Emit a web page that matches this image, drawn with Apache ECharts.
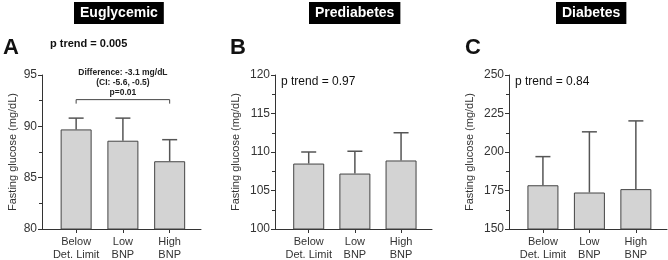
<!DOCTYPE html>
<html>
<head>
<meta charset="utf-8">
<script src="https://cdn.jsdelivr.net/npm/echarts@6/dist/echarts.min.js"></script>
<style>
  html, body { margin: 0; padding: 0; background: #fff; }
  #chart { width: 668px; height: 260px; }
</style>
</head>
<body>
<div id="chart"></div>
<script>
// categories shared by the three panels
const categories = ['Below\nDet. Limit', 'Low\nBNP', 'High\nBNP'];
const catIndex = [0, 1, 2];

// mean fasting glucose and upper error bar (mg/dL)
const eugMean = [89.7, 88.6, 86.6];
const eugUpper = [90.8, 90.8, 88.7];
const preMean = [108.5, 107.2, 108.9];
const preUpper = [110.0, 110.1, 112.5];
const diaMean = [178.4, 173.7, 175.9];
const diaUpper = [197.0, 213.1, 220.2];

// y axis ranges
const eugAxis = [80, 95, 5];
const preAxis = [100, 120, 5];
const diaAxis = [150, 250, 25];

// pairwise comparison bracket in panel A
const bracket = [[0, 2, 92.6]];
const bracketText = ['Difference: -3.1 mg/dL', '(CI: -5.6, -0.5)', 'p=0.01'];

const FONT = 'Liberation Sans, Arial, sans-serif';
const AXIS_COLOR = '#333';

const chart = echarts.init(document.getElementById('chart'), null, { renderer: 'canvas' });

const grids = [
  { left: 42, top: 75, width: 159, height: 154, outerBoundsMode: 'none', containLabel: false },
  { left: 275, top: 75, width: 157, height: 154, outerBoundsMode: 'none', containLabel: false },
  { left: 509, top: 75, width: 158, height: 154, outerBoundsMode: 'none', containLabel: false }
];

function xAxisFor(i) {
  return {
    type: 'value', gridIndex: i, min: -0.73, max: 2.67,
    splitLine: { show: false },
    axisLine: { onZero: false, lineStyle: { color: AXIS_COLOR, width: 1 } },
    axisTick: { customValues: catIndex, length: 4, lineStyle: { color: AXIS_COLOR } },
    axisLabel: {
      customValues: catIndex, formatter: (v) => categories[v],
      color: '#333', fontFamily: FONT, fontSize: 11, lineHeight: 12.5, margin: 7
    }
  };
}

function yAxisFor(i, range, gap) {
  return {
    type: 'value', gridIndex: i, min: range[0], max: range[1], interval: range[2],
    name: 'Fasting glucose (mg/dL)', nameLocation: 'middle', nameGap: gap, nameRotate: 90,
    nameTextStyle: { color: '#333', fontFamily: FONT, fontSize: 11 },
    splitLine: { show: false },
    axisLine: { show: true, onZero: false, lineStyle: { color: AXIS_COLOR, width: 1 } },
    axisTick: { show: true, length: 4, lineStyle: { color: AXIS_COLOR } },
    minorTick: { show: true, splitNumber: 2, length: 3, lineStyle: { color: AXIS_COLOR } },
    axisLabel: { color: '#333', fontFamily: FONT, fontSize: 12, margin: 5 }
  };
}

function barSeries(i, means) {
  return {
    type: 'bar', xAxisIndex: i, yAxisIndex: i, barWidth: 31,
    data: means.map((m, k) => [k, m]),
    itemStyle: { color: '#d3d3d3', borderColor: '#444', borderWidth: 1 },
    silent: true, z: 2
  };
}

function errorSeries(i, means, upper) {
  return {
    type: 'custom', xAxisIndex: i, yAxisIndex: i, silent: true, z: 3,
    data: means.map((m, k) => [k, m, upper[k]]),
    renderItem: (params, api) => {
      const base = api.coord([api.value(0), api.value(1)]);
      const top = api.coord([api.value(0), api.value(2)]);
      const half = 7.5;
      const style = { stroke: '#555', lineWidth: 1.5, fill: null };
      return {
        type: 'group',
        children: [
          { type: 'line', shape: { x1: base[0], y1: base[1], x2: top[0], y2: top[1] }, style },
          { type: 'line', shape: { x1: top[0] - half, y1: top[1], x2: top[0] + half, y2: top[1] }, style }
        ]
      };
    }
  };
}

const bracketSeries = {
  type: 'custom', xAxisIndex: 0, yAxisIndex: 0, silent: true, z: 4,
  data: bracket,
  renderItem: (params, api) => {
    const a = api.coord([api.value(0), api.value(2)]);
    const b = api.coord([api.value(1), api.value(2)]);
    return {
      type: 'group',
      children: [
        {
          type: 'polyline',
          shape: { points: [[a[0], a[1] + 4], a, b, [b[0], b[1] + 4]] },
          style: { stroke: '#444', lineWidth: 1, fill: null }
        },
        {
          type: 'text',
          style: {
            x: (a[0] + b[0]) / 2, y: a[1] - 2, text: bracketText.join('\n'),
            align: 'center', verticalAlign: 'bottom',
            font: 'bold 8.5px ' + FONT, lineHeight: 10, fill: '#222'
          }
        }
      ]
    };
  }
};

function panelTitle(text, left) {
  return {
    text, left, top: 2, padding: [4, 6], backgroundColor: '#000',
    textStyle: { color: '#fff', fontFamily: FONT, fontSize: 14, fontWeight: 'bold', lineHeight: 14 }
  };
}

function label(text, left, top, size, weight) {
  return {
    text, left, top, padding: 0,
    textStyle: { color: '#111', fontFamily: FONT, fontSize: size, fontWeight: weight }
  };
}

chart.setOption({
  animation: false,
  backgroundColor: '#fff',
  title: [
    panelTitle('Euglycemic', 74),
    panelTitle('Prediabetes', 309),
    panelTitle('Diabetes', 556),
    label('A', 3, 37, 22, 'bold'),
    label('B', 230, 37, 22, 'bold'),
    label('C', 465, 37, 22, 'bold'),
    label('p trend = 0.005', 50, 38, 11, 'bold'),
    label('p trend = 0.97', 281, 76, 12, 'normal'),
    label('p trend = 0.84', 515, 76, 12, 'normal')
  ],
  grid: grids,
  xAxis: [xAxisFor(0), xAxisFor(1), xAxisFor(2)],
  yAxis: [yAxisFor(0, eugAxis, 24), yAxisFor(1, preAxis, 34), yAxisFor(2, diaAxis, 34)],
  series: [
    barSeries(0, eugMean), errorSeries(0, eugMean, eugUpper),
    barSeries(1, preMean), errorSeries(1, preMean, preUpper),
    barSeries(2, diaMean), errorSeries(2, diaMean, diaUpper),
    bracketSeries
  ]
});
</script>
</body>
</html>
